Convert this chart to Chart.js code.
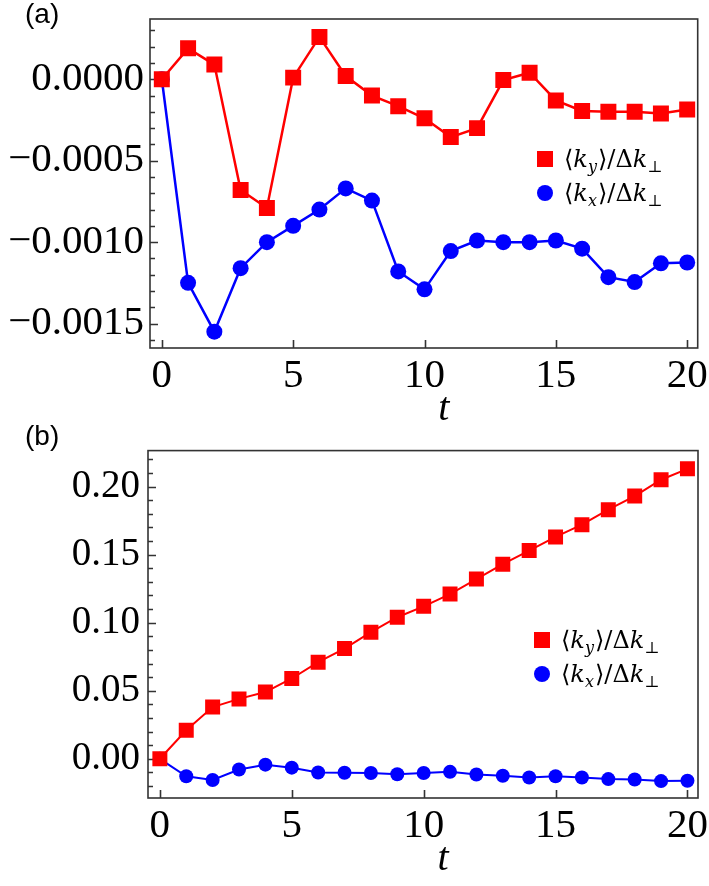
<!DOCTYPE html>
<html>
<head>
<meta charset="utf-8">
<script src="https://cdn.jsdelivr.net/npm/chart.js@4.4.1/dist/chart.umd.min.js"></script>
<style>
body { margin: 0; background: #fff; }
#wrap { position: relative; width: 709px; height: 886px; }
canvas { display: block; }
.plabel { position: absolute; left: 25px; font: 28px "Liberation Sans", Arial, sans-serif; line-height: 1; color: #000; }
</style>
</head>
<body>
<div id="wrap">
  <canvas id="chartA" width="709" height="440"></canvas>
  <canvas id="chartB" width="709" height="446"></canvas>
  <div class="plabel" style="top:0px">(a)</div>
  <div class="plabel" style="top:422px">(b)</div>
</div>
<script>
// time steps
const t = [0, 1, 2, 3, 4, 5, 6, 7, 8, 9, 10, 11, 12, 13, 14, 15, 16, 17, 18, 19, 20]

// panel (a)
const kyA = [0, 0.00019, 0.00009, -0.00068, -0.00079, 0.00001, 0.00026, 0.00002, -0.0001, -0.000165,
    -0.00024, -0.000355, -0.0003, -0.000005, 0.00004, -0.00013, -0.000195, -0.0002, -0.0002, -0.00021, -0.000185]
const kxA = [0, -0.00125, -0.00155, -0.00116, -0.001, -0.0009, -0.0008, -0.00067, -0.000745, -0.00118,
    -0.00129, -0.001055, -0.00099, -0.001, -0.001, -0.00099, -0.00104, -0.001215, -0.001245, -0.00113, -0.001125]

// panel (b)
const kyB = [0, 0.021, 0.038, 0.044, 0.049, 0.059, 0.071, 0.081, 0.093, 0.104,
    0.112, 0.121, 0.132, 0.143, 0.153, 0.163, 0.172, 0.183, 0.193, 0.205, 0.213]
const kxB = [0, -0.0128, -0.0156, -0.0079, -0.0043, -0.0065, -0.0101, -0.0103, -0.0104, -0.0113,
    -0.0104, -0.0096, -0.0115, -0.0125, -0.0137, -0.0128, -0.0137, -0.0149, -0.0152, -0.0164, -0.0161]

// axis ranges and tick steps
const xRange = [-0.45, 20.4]
const xStep = 5
const yRangeA = [-0.00165, 0.00037]
const yMinorA = 0.0001
const yMajorA = 0.0005
const yRangeB = [-0.0288, 0.2264]
const yMinorB = 0.01
const yMajorB = 0.05

// legend labels: [text, style]  i = italic, s = subscript
const kyLabel = [['\u27E8', ''], ['k', 'i'], ['y', 'is'], ['\u27E9/\u0394', ''], ['k', 'i'], ['\u22A5', 's']]
const kxLabel = [['\u27E8', ''], ['k', 'i'], ['x', 'is'], ['\u27E9/\u0394', ''], ['k', 'i'], ['\u22A5', 's']]

const RED = 'rgb(255,0,0)'
const BLUE = 'rgb(0,0,255)'
const serif = '"Liberation Serif", "Times New Roman", serif'

function pts(ys) {
    return t.map((v, i) => ({ x: v, y: ys[i] }))
}

function isMajor(v, step) {
    return Math.abs(Math.round(v / step) * step - v) < step * 1e-6
}

// frame box with inward ticks
const frameTicks = {
    id: 'frameTicks',
    beforeDatasetsDraw(chart) {
        const ctx = chart.ctx
        const a = chart.chartArea
        const xs = chart.scales.x
        const ys = chart.scales.y
        ctx.save()
        ctx.strokeStyle = '#333'
        ctx.lineWidth = 1.6
        ctx.strokeRect(a.left, a.top, a.right - a.left, a.bottom - a.top)
        ctx.beginPath()
        ys.ticks.forEach(tk => {
            const py = Math.round(ys.getPixelForValue(tk.value)) + 0.5
            const len = tk.label ? 8 : 5
            ctx.moveTo(a.left, py)
            ctx.lineTo(a.left + len, py)
        })
        xs.ticks.forEach(tk => {
            const px = Math.round(xs.getPixelForValue(tk.value)) + 0.5
            ctx.moveTo(px, a.bottom)
            ctx.lineTo(px, a.bottom - 8)
        })
        ctx.stroke()
        ctx.restore()
    }
}

// legend with sub/italic math text
const mathLegend = {
    id: 'mathLegend',
    afterDatasetsDraw(chart, args, opts) {
        const ctx = chart.ctx
        ctx.save()
        chart.data.datasets.forEach((ds, i) => {
            const cx = opts.x
            const cy = opts.y + i * opts.gap
            ctx.fillStyle = ds.backgroundColor
            if (ds.pointStyle === 'rect') {
                ctx.fillRect(cx - 8, cy - 8, 16, 16)
            } else {
                ctx.beginPath()
                ctx.arc(cx, cy, 8, 0, Math.PI * 2)
                ctx.fill()
            }
            let x = cx + 19
            const base = cy + 8
            ctx.fillStyle = '#000'
            ctx.textBaseline = 'alphabetic'
            ds.mathLabel.forEach(p => {
                const it = p[1].includes('i') ? 'italic ' : ''
                const sub = p[1].includes('s')
                ctx.font = it + (sub ? '16px ' : '24px ') + '"DejaVu Serif", serif'
                ctx.fillText(p[0], x, sub ? base + 5 : base)
                x += ctx.measureText(p[0]).width + (sub ? 1 : 0)
            })
        })
        ctx.restore()
    }
}

function yFit(width) {
    return scale => {
        scale.width = width
        scale.paddingTop = 0
        scale.paddingBottom = 0
    }
}

function xFit(height) {
    return scale => {
        scale.height = height
        scale.paddingLeft = 0
        scale.paddingRight = 0
    }
}

function makeOptions(cfg) {
    return {
        responsive: false,
        animation: false,
        events: [],
        layout: { padding: { top: cfg.top, right: 11, left: 0, bottom: 0 } },
        plugins: {
            legend: { display: false },
            tooltip: { enabled: false },
            mathLegend: cfg.legend
        },
        scales: {
            x: {
                type: 'linear',
                min: xRange[0],
                max: xRange[1],
                grid: { display: false, drawTicks: false },
                border: { display: false },
                ticks: {
                    stepSize: xStep,
                    includeBounds: false,
                    autoSkip: false,
                    maxRotation: 0,
                    padding: 4,
                    color: '#000',
                    font: { family: serif, size: 41 },
                    callback: v => String(v)
                },
                title: {
                    display: true,
                    text: '\u2003t',
                    color: '#000',
                    padding: { top: 0, bottom: cfg.titlePad },
                    font: { family: serif, size: 40, style: 'italic' }
                },
                afterFit: xFit(cfg.xHeight)
            },
            y: {
                type: 'linear',
                min: cfg.yRange[0],
                max: cfg.yRange[1],
                grid: { display: false, drawTicks: false },
                border: { display: false },
                ticks: {
                    stepSize: cfg.minor,
                    includeBounds: false,
                    autoSkip: false,
                    maxTicksLimit: 100,
                    padding: cfg.yPad,
                    color: '#000',
                    font: { family: serif, size: cfg.yFont },
                    callback: v => {
                        if (!isMajor(v, cfg.major)) return ''
                        if (Math.abs(v) < cfg.minor * 1e-3) v = 0
                        return (v < 0 ? '\u2212' : '') + Math.abs(v).toFixed(cfg.digits)
                    }
                },
                afterFit: yFit(cfg.yWidth)
            }
        }
    }
}

var chartA = new Chart(document.getElementById('chartA'), {
    type: 'line',
    data: {
        datasets: [{
            label: '<ky>/dk',
            mathLabel: kyLabel,
            data: pts(kyA),
            borderColor: RED,
            backgroundColor: RED,
            borderWidth: 2.5,
            pointStyle: 'rect',
            pointRadius: 11.3,
            pointBorderWidth: 0,
            tension: 0
        }, {
            label: '<kx>/dk',
            mathLabel: kxLabel,
            data: pts(kxA),
            borderColor: BLUE,
            backgroundColor: BLUE,
            borderWidth: 2.5,
            pointStyle: 'circle',
            pointRadius: 8,
            pointBorderWidth: 0,
            tension: 0
        }]
    },
    options: makeOptions({
        top: 19, xHeight: 92, yWidth: 150, yPad: 6, yFont: 41, titlePad: 7,
        yRange: yRangeA, minor: yMinorA, major: yMajorA, digits: 4,
        legend: { x: 545, y: 159, gap: 34 }
    }),
    plugins: [frameTicks, mathLegend]
});

var chartB = new Chart(document.getElementById('chartB'), {
    type: 'line',
    data: {
        datasets: [{
            label: '<ky>/dk',
            mathLabel: kyLabel,
            data: pts(kyB),
            borderColor: RED,
            backgroundColor: RED,
            borderWidth: 2,
            pointStyle: 'rect',
            pointRadius: 10.6,
            pointBorderWidth: 0,
            tension: 0
        }, {
            label: '<kx>/dk',
            mathLabel: kxLabel,
            data: pts(kxB),
            borderColor: BLUE,
            backgroundColor: BLUE,
            borderWidth: 2,
            pointStyle: 'circle',
            pointRadius: 7,
            pointBorderWidth: 0,
            tension: 0
        }]
    },
    options: makeOptions({
        top: 4, xHeight: 88, yWidth: 148, yPad: 8, yFont: 39, titlePad: 3,
        yRange: yRangeB, minor: yMinorB, major: yMajorB, digits: 2,
        legend: { x: 542, y: 200, gap: 34 }
    }),
    plugins: [frameTicks, mathLegend]
});
</script>
</body>
</html>
